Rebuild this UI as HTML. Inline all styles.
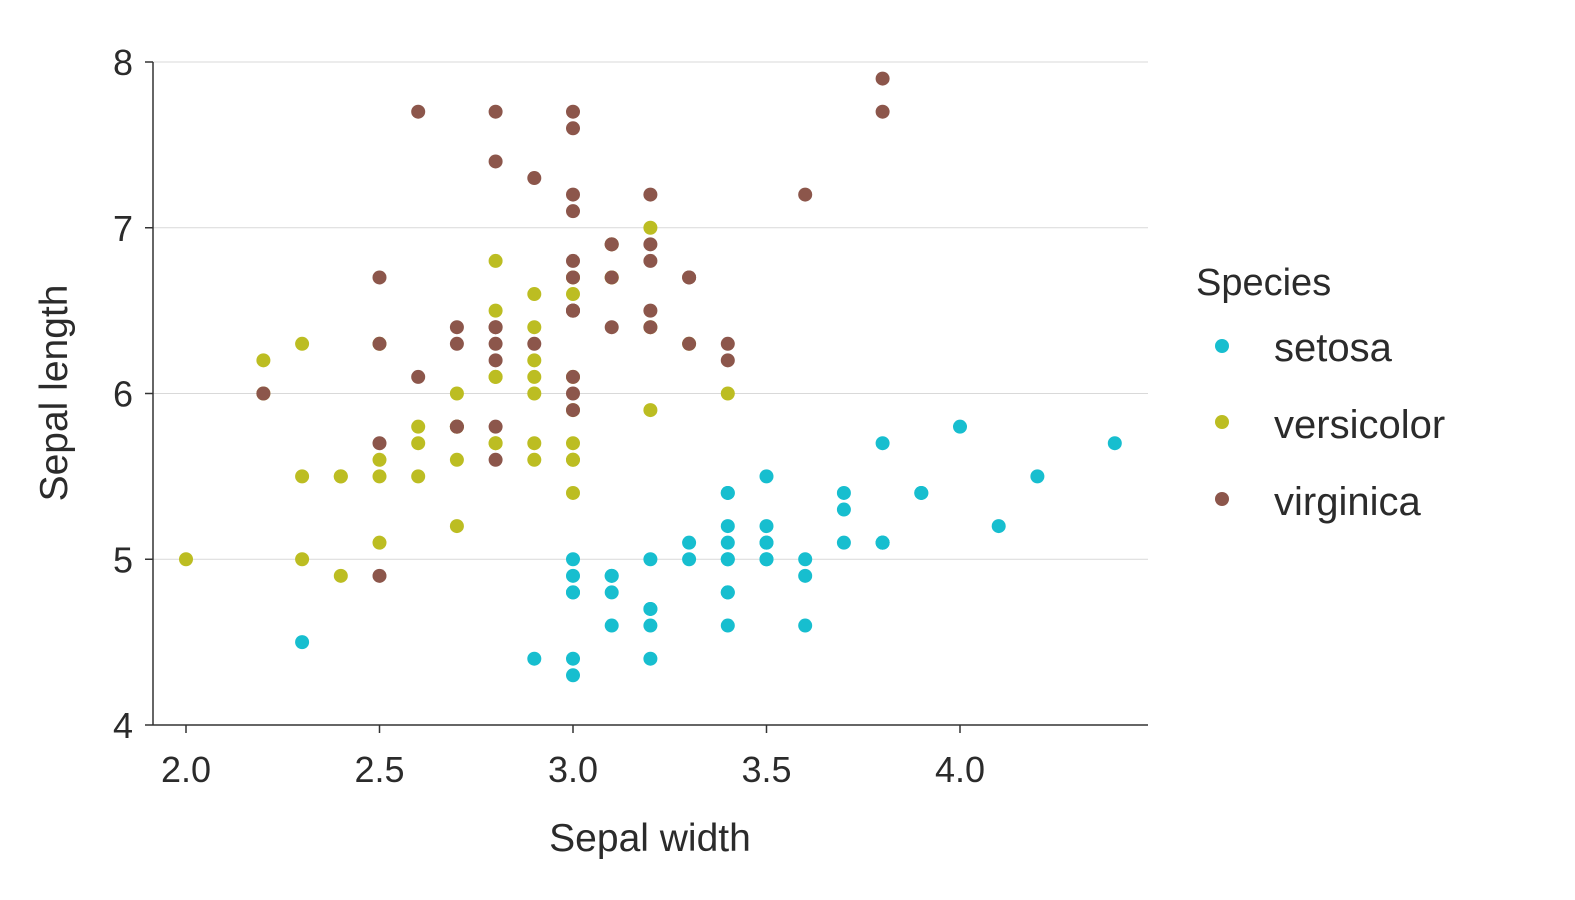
<!DOCTYPE html>
<html><head><meta charset="utf-8"><style>
body{margin:0;background:#fff;overflow:hidden}
svg{display:block}
svg text{font-family:"Liberation Sans",Arial,sans-serif;fill:#2b2b2b}
</style></head><body>
<svg id="chart" width="1575" height="900" xmlns="http://www.w3.org/2000/svg">
<g id="grid"></g>
<g id="pts"></g>
<g id="axes"></g>
<text x="650" y="851" font-size="39" text-anchor="middle">Sepal width</text>
<text transform="translate(67,393) rotate(-90)" font-size="39" text-anchor="middle">Sepal length</text>
<g>
<text x="1196" y="295" font-size="38">Species</text>
<circle cx="1222" cy="346" r="7" fill="#17becf"/>
<text x="1274" y="361" font-size="40">setosa</text>
<circle cx="1222" cy="422" r="7" fill="#bcbd22"/>
<text x="1274" y="438" font-size="40">versicolor</text>
<circle cx="1222" cy="499" r="7" fill="#8c564b"/>
<text x="1274" y="515" font-size="40">virginica</text>
</g>
</svg>
<script>
const species=["setosa","versicolor","virginica"];
const colors=["#17becf","#bcbd22","#8c564b"];
const setosaLen=[5.1,4.9,4.7,4.6,5.0,5.4,4.6,5.0,4.4,4.9,5.4,4.8,4.8,4.3,5.8,5.7,5.4,5.1,5.7,5.1,5.4,5.1,4.6,5.1,4.8,5.0,5.0,5.2,5.2,4.7,4.8,5.4,5.2,5.5,4.9,5.0,5.5,4.9,4.4,5.1,5.0,4.5,4.4,5.0,5.1,4.8,5.1,4.6,5.3,5.0];
const setosaWid=[3.5,3.0,3.2,3.1,3.6,3.9,3.4,3.4,2.9,3.1,3.7,3.4,3.0,3.0,4.0,4.4,3.9,3.5,3.8,3.8,3.4,3.7,3.6,3.3,3.4,3.0,3.4,3.5,3.4,3.2,3.1,3.4,4.1,4.2,3.1,3.2,3.5,3.6,3.0,3.4,3.5,2.3,3.2,3.5,3.8,3.0,3.8,3.2,3.7,3.3];
const versiLen=[7.0,6.4,6.9,5.5,6.5,5.7,6.3,4.9,6.6,5.2,5.0,5.9,6.0,6.1,5.6,6.7,5.6,5.8,6.2,5.6,5.9,6.1,6.3,6.1,6.4,6.6,6.8,6.7,6.0,5.7,5.5,5.5,5.8,6.0,5.4,6.0,6.7,6.3,5.6,5.5,5.5,6.1,5.8,5.0,5.6,5.7,5.7,6.2,5.1,5.7];
const versiWid=[3.2,3.2,3.1,2.3,2.8,2.8,3.3,2.4,2.9,2.7,2.0,3.0,2.2,2.9,2.9,3.1,3.0,2.7,2.2,2.5,3.2,2.8,2.5,2.8,2.9,3.0,2.8,3.0,2.9,2.6,2.4,2.4,2.7,2.7,3.0,3.4,3.1,2.3,3.0,2.5,2.6,3.0,2.6,2.3,2.7,3.0,2.9,2.9,2.5,2.8];
const virgLen=[6.3,5.8,7.1,6.3,6.5,7.6,4.9,7.3,6.7,7.2,6.5,6.4,6.8,5.7,5.8,6.4,6.5,7.7,7.7,6.0,6.9,5.6,7.7,6.3,6.7,7.2,6.2,6.1,6.4,7.2,7.4,7.9,6.4,6.3,6.1,7.7,6.3,6.4,6.0,6.9,6.7,6.9,5.8,6.8,6.7,6.7,6.3,6.5,6.2,5.9];
const virgWid=[3.3,2.7,3.0,2.9,3.0,3.0,2.5,2.9,2.5,3.6,3.2,2.7,3.0,2.5,2.8,3.2,3.0,3.8,2.6,2.2,3.2,2.8,2.8,2.7,3.3,3.2,2.8,3.0,2.8,3.0,2.8,3.8,2.8,2.8,2.6,3.0,3.4,3.1,3.0,3.1,3.1,3.1,2.7,3.2,3.3,3.0,2.5,3.0,3.4,3.0];
const xTicks=["2.0","2.5","3.0","3.5","4.0"];
const yTicks=[4,5,6,7,8];
const NS="http://www.w3.org/2000/svg";
const X=v=>186+(v-2)*387;
const Y=v=>725-(v-4)*165.75;
function mk(tag,attrs,parent){const e=document.createElementNS(NS,tag);for(const k in attrs)e.setAttribute(k,attrs[k]);parent.appendChild(e);return e;}
const grid=document.getElementById('grid'),pts=document.getElementById('pts'),axes=document.getElementById('axes');
yTicks.forEach(t=>{if(t>4){const l=mk('line',{x1:153,x2:1148,y1:Y(t),y2:Y(t),stroke:'#d9d9d9','stroke-width':1},grid);

}
const tk=mk('line',{x1:145,x2:153,y1:Y(t),y2:Y(t),stroke:'#333','stroke-width':1.5},axes);


const tx=mk('text',{x:133,y:Y(t)+13,'font-size':36,'text-anchor':'end'},axes);tx.textContent=t;

});
xTicks.forEach(t=>{const v=parseFloat(t);
const tk=mk('line',{x1:X(v),x2:X(v),y1:725,y2:733,stroke:'#333','stroke-width':1.5},axes);


const tx=mk('text',{x:X(v),y:782,'font-size':36,'text-anchor':'middle'},axes);tx.textContent=t;

});
const ya=mk('line',{x1:153,x2:153,y1:62,y2:725,stroke:'#333','stroke-width':1.5},axes);


const xa=mk('line',{x1:153,x2:1148,y1:725,y2:725,stroke:'#333','stroke-width':1.5},axes);


const series=[[setosaWid,setosaLen],[versiWid,versiLen],[virgWid,virgLen]];
series.forEach((s,i)=>{s[0].forEach((w,j)=>{const c=mk('circle',{cx:X(w),cy:Y(s[1][j]),r:7,fill:colors[i]},pts);

});});
</script>
</body></html>
